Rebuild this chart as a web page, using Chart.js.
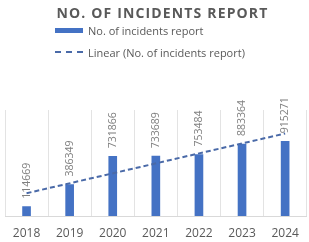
<!DOCTYPE html>
<html>
<head>
<meta charset="utf-8">
<script src="https://cdn.jsdelivr.net/npm/chart.js@4"></script>
<style>
  html, body { margin: 0; padding: 0; background: #fff; overflow: hidden; }
  #wrap { position: relative; width: 309px; height: 242px; }
  #chart { display: block; }
  #title {
    position: absolute; left: 0; top: 3px; width: 309px; padding-left: 16px; box-sizing: border-box;
    text-align: center; font: bold 14px "Open Sans", sans-serif; letter-spacing: 1.15px; color: #595959;
  }
  #legend { position: absolute; left: 55px; top: 21px; font: 11px "Open Sans", sans-serif; color: #595959; }
  .item { display: flex; align-items: center; height: 18px; margin-bottom: 4px; }
  .box { width: 28px; height: 5px; background: #4472C4; margin-right: 5px; }
  .dash { width: 28px; height: 0; border-top: 2px dashed #4A6AA8; margin-right: 5px; }
</style>
</head>
<body>
<div id="wrap">
  <canvas id="chart" width="309" height="242"></canvas>
  <div id="title">NO. OF INCIDENTS REPORT</div>
  <div id="legend"></div>
</div>
<script>
// Dữ liệu biểu đồ
const years = ["2018", "2019", "2020", "2021", "2022", "2023", "2024"];
const incidents = [114669, 386349, 731866, 733689, 753484, 883364, 915271];
// Đường xu hướng tuyến tính (đầu và cuối)
const trendLine = [279000, null, null, null, null, null, 1012000];
const seriesNames = ["No. of incidents report", "Linear (No. of incidents report)"];

// Vẽ nhãn giá trị xoay dọc phía trên cột
const barLabels = {
  id: "barLabels",
  afterDatasetsDraw(chart) {
    const ctx = chart.ctx;
    const meta = chart.getDatasetMeta(1);
    ctx.save();
    ctx.font = "10.5px 'Open Sans', sans-serif";
    ctx.fillStyle = "#808080";
    ctx.textAlign = "left";
    ctx.textBaseline = "middle";
    meta.data.forEach((bar, i) => {
      ctx.save();
      ctx.translate(bar.x, bar.y - 8);
      ctx.rotate(-Math.PI / 2);
      ctx.fillText(String(incidents[i]), 0, 0);
      ctx.restore();
    });
    ctx.restore();
  }
};

new Chart(document.getElementById("chart"), {
  type: "bar",
  data: {
    labels: years,
    datasets: [
      {
        type: "line",
        label: seriesNames[1],
        data: trendLine,
        spanGaps: true,
        borderColor: "#4A6AA8",
        borderWidth: 2,
        borderDash: [5, 3],
        pointRadius: 0,
        fill: false,
        order: 0
      },
      {
        label: seriesNames[0],
        data: incidents,
        backgroundColor: "#4472C4",
        barThickness: 8,
        order: 1
      }
    ]
  },
  options: {
    responsive: false,
    animation: false,
    layout: { padding: { top: 110, left: 5, right: 2, bottom: 0 } },
    plugins: { legend: { display: false }, tooltip: { enabled: false } },
    scales: {
      x: {
        grid: { color: "#E3E3E3", offset: true, drawTicks: false },
        border: { color: "#D9D9D9" },
        ticks: { color: "#595959", font: { family: "Open Sans", size: 12 }, padding: 10 },
        afterFit(scale) { scale.height = 26; }
      },
      y: { display: false, min: 0, max: 1300000 }
    }
  },
  plugins: [barLabels]
});

// Chú thích
const legend = document.getElementById("legend");
legend.innerHTML =
  '<div class="item"><span class="box"></span>' + seriesNames[0] + '</div>' +
  '<div class="item"><span class="dash"></span>' + seriesNames[1] + '</div>';
</script>
</body>
</html>
